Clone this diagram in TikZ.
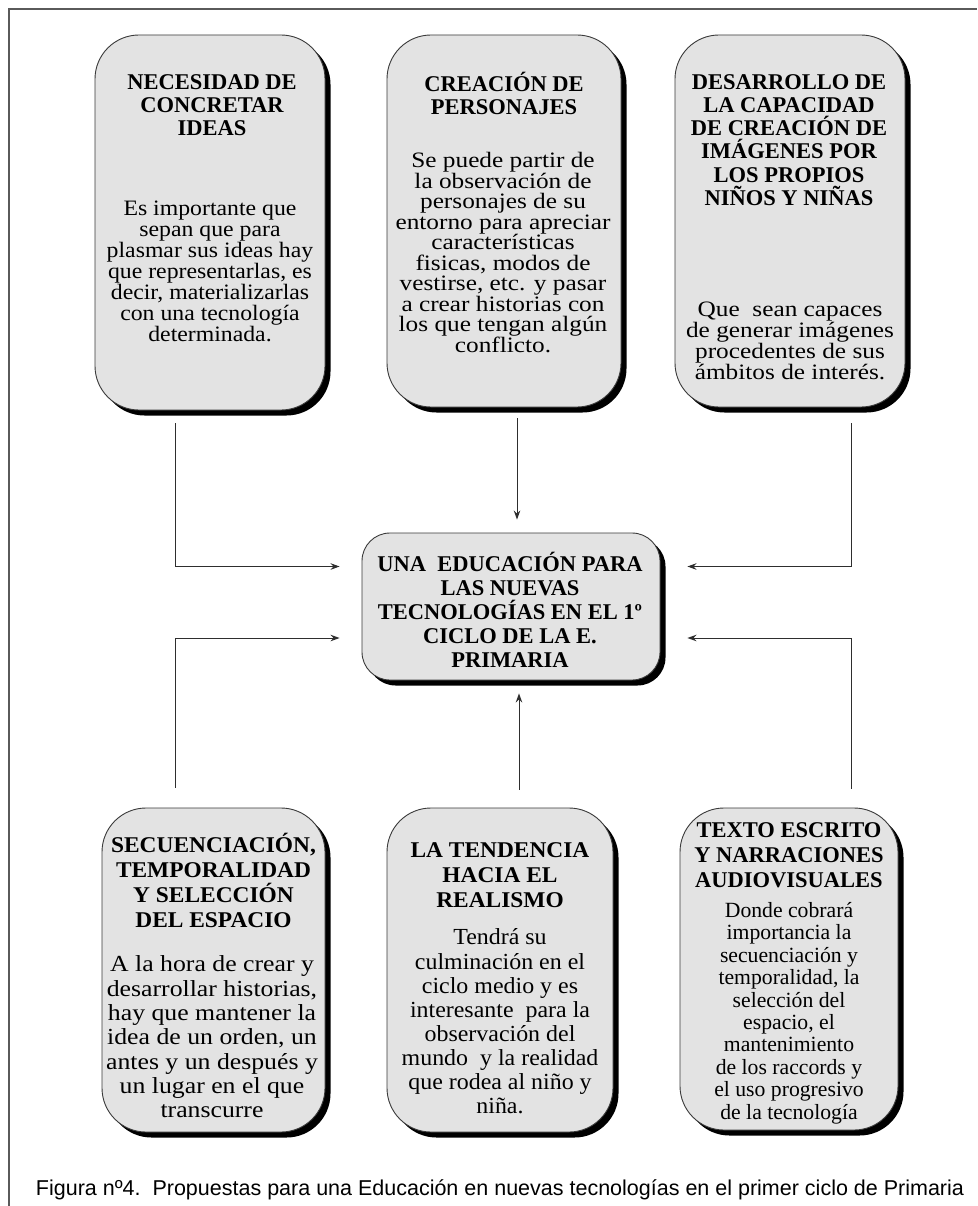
\documentclass[tikz,border=0pt]{standalone}
\usepackage{fontspec}
\setmainfont{Liberation Serif}
\newfontfamily\capfont{Liberation Sans}
\newfontfamily\sxa{Liberation Serif}[FakeStretch=1.04]
\newfontfamily\sxb{Liberation Serif}[FakeStretch=1.08]
\newfontfamily\sxc{Liberation Serif}[FakeStretch=1.12]
\newfontfamily\sxd{Liberation Serif}[FakeStretch=1.15]
\usetikzlibrary{shadows,arrows.meta,calc}

\definecolor{cardfill}{HTML}{E3E3E3}
\definecolor{cardline}{HTML}{3A3A3A}
\definecolor{arrowcol}{HTML}{2E2E2E}
\definecolor{framecol}{HTML}{5A5A5A}

\tikzset{
  card/.style={draw=cardline, line width=0.9pt, fill=cardfill, rounded corners=44pt, inner sep=0pt,
    drop shadow={shadow xshift=5.5pt, shadow yshift=-5.5pt, opacity=1, fill=black}},
  hub/.style={card, rounded corners=28pt},
  ttl/.style={align=center, inner sep=0pt, text=black},
  txt/.style={align=center, inner sep=0pt, text=black},
  arr/.style={draw=arrowcol, line width=1pt, -{Stealth[length=9pt,width=6.5pt]}},
}

\begin{document}
\begin{tikzpicture}[x=1pt,y=-1pt]
\useasboundingbox (0,0) rectangle (977,1206);
\fill[white] (0,0) rectangle (977,1206);
% frame
\draw[framecol, line width=1.6pt] (9,1206) -- (9,9) -- (977,9);

% boxes
\node[card, minimum width=230pt, minimum height=375pt] (tl) at (210,222.5) {};
\node[card, minimum width=234pt, minimum height=372pt] (tm) at (504,221) {};
\node[card, minimum width=230pt, minimum height=372pt] (tr) at (790,221) {};
\node[hub, minimum width=298pt, minimum height=147pt] (c) at (511,606.5) {};
\node[card, minimum width=223pt, minimum height=324pt] (bl) at (213.5,970) {};
\node[card, minimum width=226pt, minimum height=324pt] (bm) at (500,970) {};
\node[card, minimum width=218pt, minimum height=322pt] (br) at (789,969) {};

% texts
\node[ttl, font=\fontsize{22.5}{23}\selectfont\bfseries] (tlT) at (212,105) {NECESIDAD DE\\CONCRETAR\\IDEAS};
\node[txt, font=\sxb\fontsize{22}{21}\selectfont] (tlB) at (210,271.5) {Es importante que\\sepan que para\\plasmar sus ideas hay\\que representarlas, es\\decir, materializarlas\\con una tecnología\\determinada.};

\node[ttl, font=\fontsize{22.5}{23}\selectfont\bfseries] (tmT) at (504,93.5) {CREACIÓN DE\\PERSONAJES};
\node[txt, font=\sxd\fontsize{22}{20.5}\selectfont] (tmB) at (503,252.5) {Se puede partir de\\la observación de\\personajes de su\\entorno para apreciar\\características\\fisicas, modos de\\vestirse, etc. y pasar\\a crear historias con\\los que tengan algún\\conflicto.};

\node[ttl, font=\fontsize{22.5}{23.2}\selectfont\bfseries] (trT) at (789,140) {DESARROLLO DE\\LA CAPACIDAD\\DE CREACIÓN DE\\IMÁGENES POR\\LOS PROPIOS\\NIÑOS Y NIÑAS};
\node[txt, font=\sxd\fontsize{22}{21}\selectfont] (trB) at (790,341) {Que\ \ sean capaces\\de generar imágenes\\procedentes de sus\\ámbitos de interés.};

\node[ttl, font=\fontsize{22.5}{24}\selectfont\bfseries] (cT) at (510,609.5) {UNA\ \ EDUCACIÓN PARA\\LAS NUEVAS\\TECNOLOGÍAS EN EL 1º\\CICLO DE LA E.\\PRIMARIA};

\node[ttl, font=\sxa\fontsize{22.5}{25}\selectfont\bfseries] (blT) at (213.5,880.5) {SECUENCIACIÓN,\\TEMPORALIDAD\\Y SELECCIÓN\\DEL ESPACIO};
\node[txt, font=\sxc\fontsize{23}{24.3}\selectfont] (blB) at (212,1037) {A la hora de crear y\\desarrollar historias,\\hay que mantener la\\idea de un orden, un\\antes y un después y\\un lugar en el que\\transcurre};

\node[ttl, font=\sxa\fontsize{22.5}{25}\selectfont\bfseries] (bmT) at (500,875) {LA TENDENCIA\\HACIA EL\\REALISMO};
\node[txt, font=\sxa\fontsize{23}{24.1}\selectfont] (bmB) at (500,1021.5) {Tendrá su\\culminación en el\\ciclo medio y es\\interesante\ \ para la\\observación del\\mundo\ \ y la realidad\\que rodea al niño y\\niña.};

\node[ttl, font=\fontsize{22.5}{25}\selectfont\bfseries] (brT) at (789,855) {TEXTO ESCRITO\\Y NARRACIONES\\AUDIOVISUALES};
\node[txt, font=\fontsize{21.7}{22.4}\selectfont] (brB) at (789,1013) {Donde cobrará\\importancia la\\secuenciación y\\temporalidad, la\\selección del\\espacio, el\\mantenimiento\\de los raccords y\\el uso progresivo\\de la tecnología};

% connectors
\draw[arr] ([xshift=81pt,yshift=-13pt]tl.south west) |- ([xshift=-22pt,yshift=40pt]c.west);
\draw[arr] ([xshift=13pt,yshift=-11pt]tm.south) -- ([xshift=6pt,yshift=13pt]c.north);
\draw[arr] ([xshift=-54pt,yshift=-16pt]tr.south east) |- ([xshift=27pt,yshift=40pt]c.east);
\draw[arr] ([xshift=74pt,yshift=20pt]bl.north west) |- ([xshift=-22pt,yshift=-31.5pt]c.west);
\draw[arr] ([xshift=19pt,yshift=18pt]bm.north) -- ([xshift=8pt,yshift=-13pt]c.south);
\draw[arr] ([xshift=-47pt,yshift=19pt]br.north east) |- ([xshift=27pt,yshift=-31.5pt]c.east);

% caption
\node[anchor=base, inner sep=0pt, font=\capfont\fontsize{21.5}{24}\selectfont] (cap) at (500,1195) {Figura nº4.\ \ Propuestas para una Educación en nuevas tecnologías en el primer ciclo de Primaria};
\end{tikzpicture}
\end{document}
